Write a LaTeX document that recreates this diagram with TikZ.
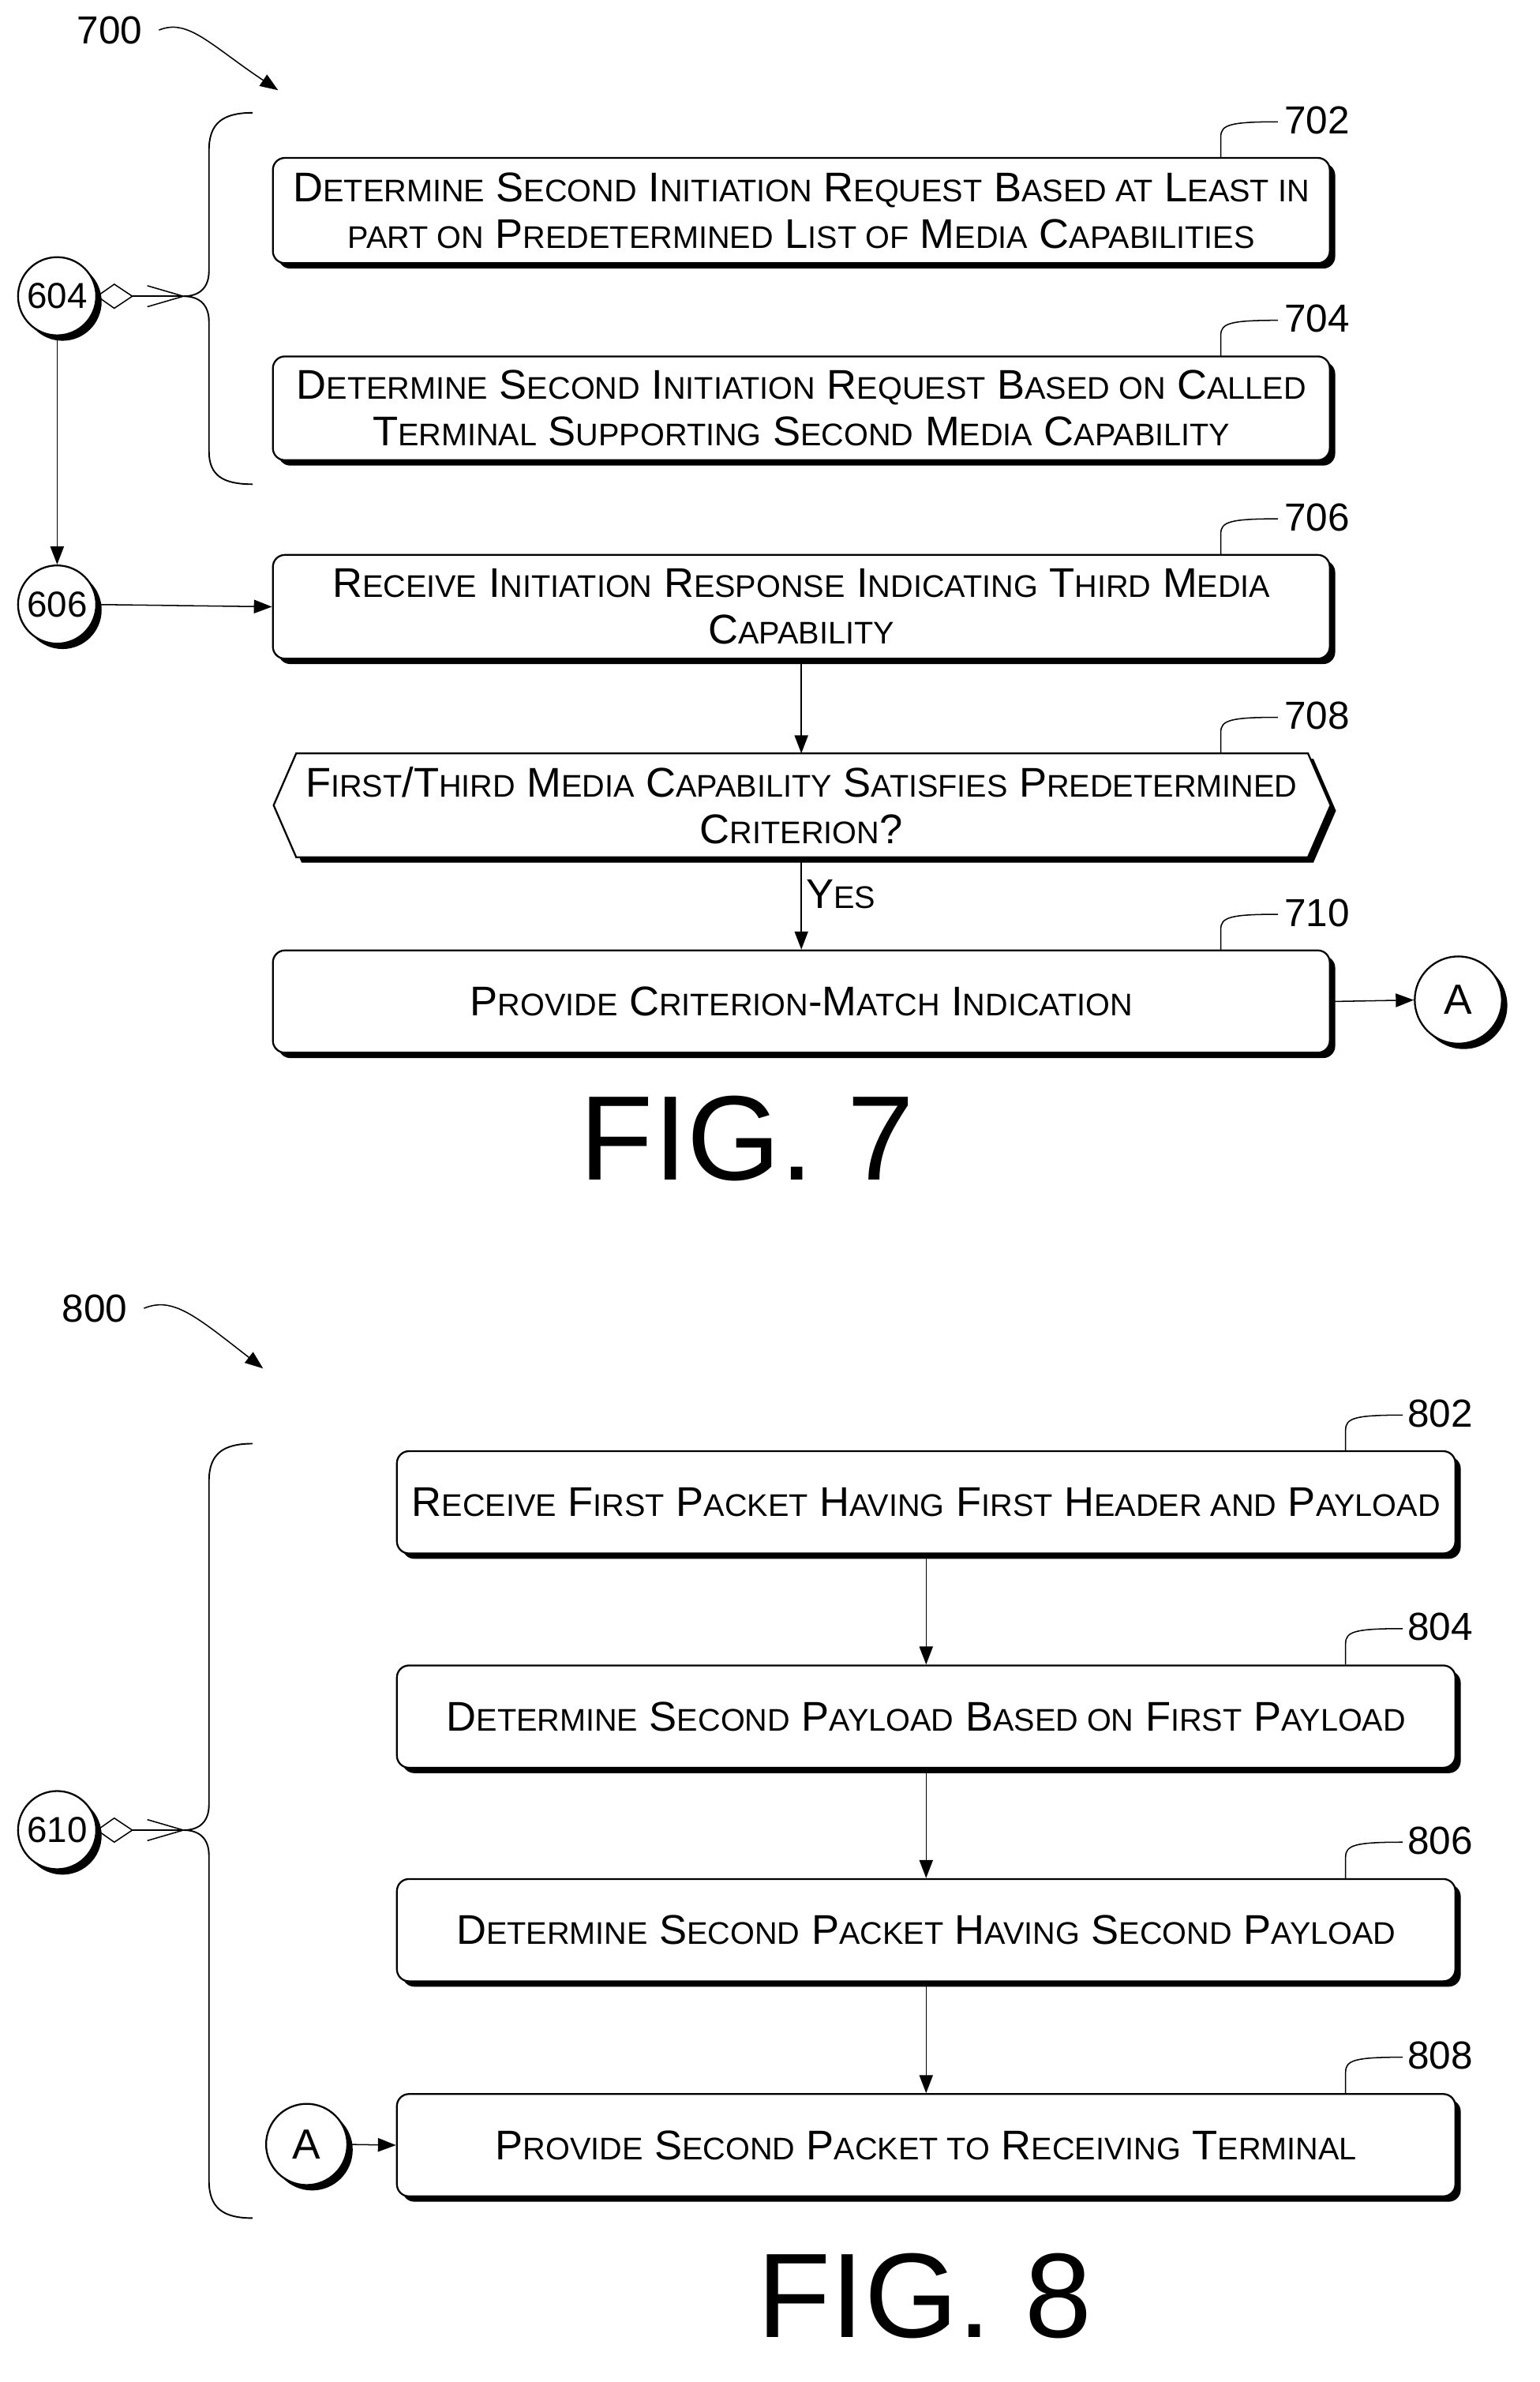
\documentclass[tikz,border=0pt]{standalone}
\usepackage{fontspec}
\setmainfont{Liberation Sans}
\usetikzlibrary{shadows,arrows.meta}
\newcommand\sm[1]{{\fontsize{10.4}{11}\selectfont #1}}
\begin{document}
\begin{tikzpicture}[x=0.5pt,y=-0.5pt,
  shd/.style={drop shadow={shadow xshift=1.8pt,shadow yshift=-1.8pt,fill=black,opacity=1}},
  box/.style={draw,line width=0.6pt,fill=white,rounded corners=4pt,shd,minimum width=351.5pt,align=center,font=\fontsize{13.8}{15.5}\selectfont},
  circ/.style={draw,circle,fill=white,line width=0.6pt,shd,inner sep=0pt,font=\fontsize{12}{12}\selectfont},
  num/.style={font=\fontsize{13}{13}\selectfont},
  fig/.style={font=\fontsize{40}{40}\selectfont},
  arr/.style={-{Triangle[length=6pt,width=4.5pt]},line width=0.4pt},
  lead/.style={line width=0.4pt}]
\useasboundingbox (0,0) rectangle (1024,1584);
% ---------- FIG 7 ----------
\node[num] (l700) at (73,20) {700};
\draw[arr] (l700.east) ++(4,0) .. controls (125,12) and (140,30) .. (185,60);
\draw[line width=0.5pt] (168,75) .. controls (148,75) and (139,82) .. (139,100) -- (139,180) .. controls (139,192) and (132,197) .. (122,197)
  .. controls (132,197) and (139,202) .. (139,214) -- (139,300) .. controls (139,316) and (148,322) .. (168,322);
\node[box,minimum height=35pt] (b702) at (533,140) {D\sm{ETERMINE} S\sm{ECOND} I\sm{NITIATION} R\sm{EQUEST} B\sm{ASED AT} L\sm{EAST IN}\\\sm{PART ON} P\sm{REDETERMINED} L\sm{IST OF} M\sm{EDIA} C\sm{APABILITIES}};
\node[box,minimum height=34.5pt] (b704) at (533,271.5) {D\sm{ETERMINE} S\sm{ECOND} I\sm{NITIATION} R\sm{EQUEST} B\sm{ASED ON} C\sm{ALLED}\\T\sm{ERMINAL} S\sm{UPPORTING} S\sm{ECOND} M\sm{EDIA} C\sm{APABILITY}};
\node[box,minimum height=34.5pt] (b706) at (533,403.5) {R\sm{ECEIVE} I\sm{NITIATION} R\sm{ESPONSE} I\sm{NDICATING} T\sm{HIRD} M\sm{EDIA}\\C\sm{APABILITY}};
\coordinate (d708n) at (533,501);
\coordinate (d708s) at (533,570);
\draw[line width=0.6pt,fill=white,shd] (197,501) -- (870,501) -- (885,535.5) -- (870,570) -- (197,570) -- (182,535.5) -- cycle;
\node[align=center,font=\fontsize{13.8}{15.5}\selectfont] (d708) at (533,535.5) {F\sm{IRST}/T\sm{HIRD} M\sm{EDIA} C\sm{APABILITY} S\sm{ATISFIES} P\sm{REDETERMINED}\\C\sm{RITERION}?};
\node[box,minimum height=34pt] (b710) at (533,666) {P\sm{ROVIDE} C\sm{RITERION}-M\sm{ATCH} I\sm{NDICATION}};
\foreach \t/\yy in {702/105,704/237,706/369,708/501,710/632}{
  \node[num] at (876,\yy-25) {\t};
  \draw[lead] (812,\yy) -- (812,\yy-14) .. controls (812,\yy-22) and (818,\yy-24) .. (850,\yy-24);
}
\draw[arr] (b706.south) -- (d708n);
\draw[arr] (d708s) -- node[right,font=\fontsize{13.8}{12}\selectfont,pos=0.4,xshift=-2pt]{Y\sm{ES}} (b710.north);
\node[circ,minimum size=26pt] (c604) at (38,197) {604};
\node[circ,minimum size=26pt] (c606) at (38,402) {606};
\draw[arr] (c604.south) -- (c606.north);
\draw[arr] (c606.east) -- (b706.west);
\draw[line width=0.4pt] (c604.east) -- (76,189) -- (88,197) -- (76,205) -- cycle;
\draw[line width=0.4pt] (88,197) -- (122,197);
\draw[line width=0.4pt] (98,190) -- (122,197) -- (98,204);
\node[circ,minimum size=29pt,font=\fontsize{14}{14}\selectfont] (cA1) at (970,665) {A};
\draw[arr] (b710.east) -- (cA1.west);
\node[fig] at (497,757) {FIG. 7};
% ---------- FIG 8 ----------
\node[num] (l800) at (63,870) {800};
\draw[arr] (l800.east) ++(4,0) .. controls (115,862) and (130,875) .. (175,910);
\draw[line width=0.5pt] (168,960) .. controls (148,960) and (139,967) .. (139,985) -- (139,1200) .. controls (139,1212) and (132,1217) .. (122,1217)
  .. controls (132,1217) and (139,1222) .. (139,1234) -- (139,1450) .. controls (139,1468) and (148,1475) .. (168,1475);
\tikzset{box8/.style={box,minimum width=352pt,minimum height=34pt}}
\node[box8] (b802) at (616,999) {R\sm{ECEIVE} F\sm{IRST} P\sm{ACKET} H\sm{AVING} F\sm{IRST} H\sm{EADER AND} P\sm{AYLOAD}};
\node[box8] (b804) at (616,1141.5) {D\sm{ETERMINE} S\sm{ECOND} P\sm{AYLOAD} B\sm{ASED ON} F\sm{IRST} P\sm{AYLOAD}};
\node[box8] (b806) at (616,1283.5) {D\sm{ETERMINE} S\sm{ECOND} P\sm{ACKET} H\sm{AVING} S\sm{ECOND} P\sm{AYLOAD}};
\node[box8] (b808) at (616,1426.5) {P\sm{ROVIDE} S\sm{ECOND} P\sm{ACKET TO} R\sm{ECEIVING} T\sm{ERMINAL}};
\foreach \t/\yy in {802/965,804/1107,806/1249,808/1392}{
  \node[num] at (958,\yy-25) {\t};
  \draw[lead] (895,\yy) -- (895,\yy-14) .. controls (895,\yy-22) and (901,\yy-24) .. (933,\yy-24);
}
\draw[arr] (b802.south) -- (b804.north);
\draw[arr] (b804.south) -- (b806.north);
\draw[arr] (b806.south) -- (b808.north);
\node[circ,minimum size=26pt] (c610) at (38,1217) {610};
\draw[line width=0.4pt] (c610.east) -- (76,1209) -- (88,1217) -- (76,1225) -- cycle;
\draw[line width=0.4pt] (88,1217) -- (122,1217);
\draw[line width=0.4pt] (98,1210) -- (122,1217) -- (98,1224);
\node[circ,minimum size=27pt,font=\fontsize{14}{14}\selectfont] (cA2) at (204,1426) {A};
\draw[arr] (cA2.east) -- (b808.west);
\node[fig] at (615,1527) {FIG. 8};
\end{tikzpicture}
\end{document}
